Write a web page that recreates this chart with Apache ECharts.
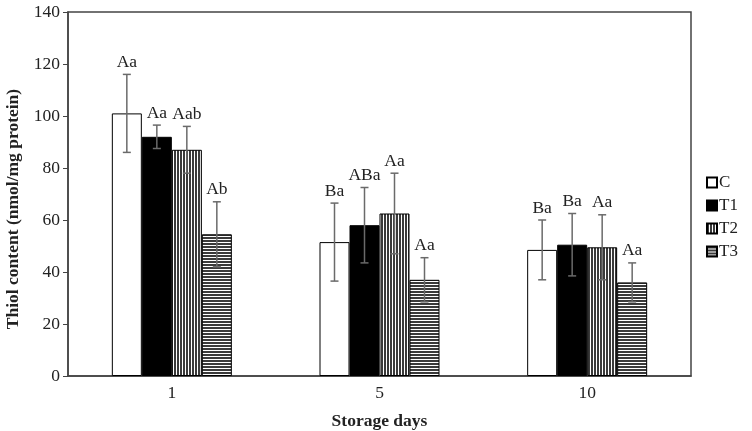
<!DOCTYPE html>
<html>
<head>
<meta charset="utf-8">
<script src="https://cdn.jsdelivr.net/npm/echarts@6/dist/echarts.min.js"></script>
<style>html,body{margin:0;padding:0;background:#fff;}#chart{width:752px;height:431px;}</style>
</head>
<body>
<div id="chart"></div>
<script>
const days = ['1', '5', '10'];
const seriesNames = ['C', 'T1', 'T2', 'T3'];
const valC  = [101, 51.5, 48.5];
const valT1 = [92, 58, 50.5];
const valT2 = [87, 62.5, 49.5];
const valT3 = [54.5, 37, 36];
const errC  = [15, 15, 11.5];
const errT1 = [4.5, 14.5, 12];
const errT2 = [9, 15.5, 12.5];
const errT3 = [12.5, 8.5, 7.5];
const labC  = ['Aa', 'Ba', 'Ba'];
const labT1 = ['Aa', 'ABa', 'Ba'];
const labT2 = ['Aab', 'Aa', 'Aa'];
const labT3 = ['Ab', 'Aa', 'Aa'];
const yTicks = [0, 20, 40, 60, 80, 100, 120, 140];

const values = [valC, valT1, valT2, valT3];
const errors = [errC, errT1, errT2, errT3];
const letters = [labC, labT1, labT2, labT3];

function stripe(vertical) {
  const c = document.createElement('canvas');
  c.width = 3; c.height = 3;
  const g = c.getContext('2d');
  g.fillStyle = '#ffffff'; g.fillRect(0, 0, 3, 3);
  g.fillStyle = '#3a3a3a';
  if (vertical) g.fillRect(0, 0, 2, 3); else g.fillRect(0, 0, 3, 2);
  return c;
}
const fills = ['#ffffff', '#000000',
  { image: stripe(true), repeat: 'repeat' },
  { image: stripe(false), repeat: 'repeat' }];

const BAR_W = 30;
const FONT = 'Liberation Serif';

const series = seriesNames.map((n, i) => ({
  name: n, type: 'bar', data: values[i], barWidth: BAR_W, barGap: '0%',
  itemStyle: { color: fills[i], borderColor: '#000', borderWidth: 1 },
  emphasis: { disabled: true }
}));

const errData = [];
for (let s = 0; s < 4; s++) for (let c = 0; c < days.length; c++) errData.push([c, values[s][c], errors[s][c], s]);

series.push({
  type: 'custom', name: 'err', z: 10, silent: true,
  encode: { x: 0, y: 1 },
  data: errData,
  renderItem: function (params, api) {
    const c = api.value(0), v = api.value(1), e = api.value(2), s = api.value(3);
    const base = api.coord([c, v]);
    const x = base[0] + (s - 1.5) * BAR_W;
    const top = api.coord([c, v + e])[1];
    const bot = api.coord([c, v - e])[1];
    const st = { stroke: '#6a6a6a', lineWidth: 1.5 };
    return { type: 'group', children: [
      { type: 'line', shape: { x1: x, y1: top, x2: x, y2: bot }, style: st },
      { type: 'line', shape: { x1: x - 4, y1: top, x2: x + 4, y2: top }, style: st },
      { type: 'line', shape: { x1: x - 4, y1: bot, x2: x + 4, y2: bot }, style: st },
      { type: 'text', x: x, y: top - 3, style: { text: letters[s][c], textAlign: 'center', textVerticalAlign: 'bottom', fill: '#222', font: '17.5px "' + FONT + '"' } }
    ]};
  }
});

const chart = echarts.init(document.getElementById('chart'));
chart.setOption({
  animation: false,
  grid: { left: 68, right: 61, top: 12, bottom: 55, containLabel: false, outerBoundsMode: 'none',
          show: true, borderColor: '#444', borderWidth: 1.5 },
  legend: {
    data: seriesNames, orient: 'vertical', left: 701, top: 169,
    itemWidth: 10, itemHeight: 10, itemGap: 6, icon: 'rect',
    textStyle: { fontFamily: FONT, fontSize: 17, color: '#222', padding: [0, 0, 0, -3] }
  },
  xAxis: {
    type: 'category', data: days,
    axisLine: { lineStyle: { color: '#444', width: 1.5 } },
    axisTick: { show: false },
    axisLabel: { fontFamily: FONT, fontSize: 17.5, color: '#222', margin: 8 },
    name: 'Storage days', nameLocation: 'middle', nameGap: 36,
    nameTextStyle: { fontFamily: FONT, fontSize: 17.5, fontWeight: 'bold', color: '#222' }
  },
  yAxis: {
    type: 'value', min: yTicks[0], max: yTicks[yTicks.length - 1], interval: 20,
    axisLine: { show: true, lineStyle: { color: '#444', width: 1.5 } },
    axisTick: { show: true, length: 5, lineStyle: { color: '#444' } },
    splitLine: { show: false },
    axisLabel: { fontFamily: FONT, fontSize: 17.5, color: '#222', margin: 8 },
    name: 'Thiol content (nmol/mg protein)', nameLocation: 'middle', nameGap: 46,
    nameTextStyle: { fontFamily: FONT, fontSize: 17.5, fontWeight: 'bold', color: '#222', padding: [0, 30, 0, 0] }
  },
  series: series
});
</script>
</body>
</html>
